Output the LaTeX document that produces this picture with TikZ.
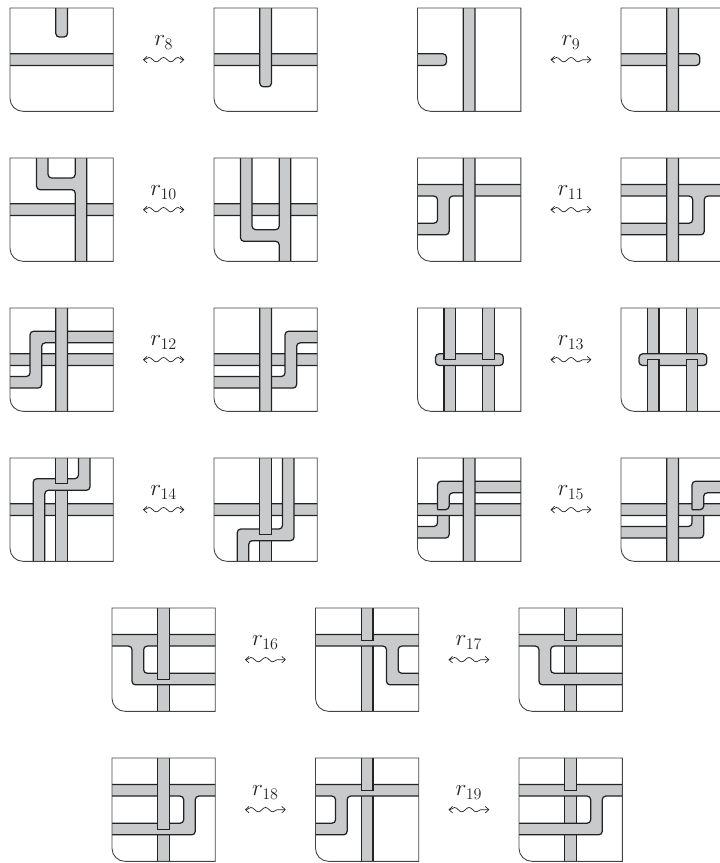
\documentclass[tikz,border=0pt]{standalone}
\usepackage{amsmath}
\usetikzlibrary{arrows.meta, positioning, calc}
\usetikzlibrary{decorations.pathmorphing}
\definecolor{bandgray}{RGB}{200,202,204}
\definecolor{edgeblack}{RGB}{35,35,35}
\tikzset{
	panelbox/.style={minimum size=103.3pt, inner sep=0pt},
	band/.style={draw=edgeblack, fill=bandgray, line width=1.25pt, rounded corners=3.5pt},
	cutband/.style={band, sharp corners},
	frameline/.style={draw=edgeblack!85, line width=0.9pt},
	relarrow/.style={{Straight Barb[length=3.5pt,width=6.5pt]}-{Straight Barb[length=3.5pt,width=6.5pt]}, line width=0.7pt, draw=edgeblack,
		decorate, decoration={snake, segment length=14.5pt, amplitude=2.2pt, pre length=1.5pt, post length=1.5pt}},
	relname/.style={anchor=base, scale=1.12, font=\huge, text=edgeblack},
}
% one square, local coordinates 0..16 with y going up
\newcommand{\panel}[4]{
	\node[panelbox] (#1) at (#2+51.65,#3+51.65) {};
	\begin{scope}[shift={(#2,#3+103.3)}, x=6.456pt, y=6.456pt]
		\begin{scope}
			\clip (0,16) -- (16,16) -- (16,0) -- (2,0) arc[start angle=270, end angle=180, radius=2] -- cycle;
			#4
		\end{scope}
		\draw[frameline] (0,16) -- (16,16) -- (16,0) -- (2,0) arc[start angle=270, end angle=180, radius=2] -- cycle;
	\end{scope}
}
\newcommand{\vband}[1]{\draw[band] (#1-.9,-1) rectangle (#1+.9,17);}
\newcommand{\hband}[1]{\draw[band] (-1,#1-.9) rectangle (17,#1+.9);}
\newcommand{\vcut}[2]{\draw[cutband] (#1-.9,17) rectangle (#1+.9,#2);}
\newcommand{\vcutup}[2]{\draw[cutband] (#1-.9,-1) rectangle (#1+.9,#2);}
% the bands with a branch
\newcommand{\branchleft}{\draw[band] (-1,11.9) -- (17,11.9) -- (17,10.1) -- (4.9,10.1) -- (4.9,4.1) -- (-1,4.1) -- (-1,5.9) -- (3.1,5.9) -- (3.1,10.1) -- (-1,10.1) -- cycle;}
\newcommand{\branchright}{\draw[band] (-1,11.9) -- (17,11.9) -- (17,10.1) -- (12.9,10.1) -- (12.9,4.1) -- (-1,4.1) -- (-1,5.9) -- (11.1,5.9) -- (11.1,10.1) -- (-1,10.1) -- cycle;}
\newcommand{\hookleft}{\draw[band] (-1,11.9) -- (17,11.9) -- (17,10.1) -- (4.9,10.1) -- (4.9,5.9) -- (17,5.9) -- (17,4.1) -- (3.1,4.1) -- (3.1,10.1) -- (-1,10.1) -- cycle;}
\newcommand{\hookright}{\draw[band] (-1,11.9) -- (17,11.9) -- (17,10.1) -- (12.8,10.1) -- (12.8,5.9) -- (17,5.9) -- (17,4.1) -- (11,4.1) -- (11,10.1) -- (-1,10.1) -- cycle;}
\newcommand{\stepleft}{\draw[band] (-1,3.6) -- (4.9,3.6) -- (4.9,10.6) -- (17,10.6) -- (17,12.4) -- (3.1,12.4) -- (3.1,5.4) -- (-1,5.4) -- cycle;}
\newcommand{\stepright}{\draw[band] (-1,3.6) -- (12.8,3.6) -- (12.8,10.6) -- (17,10.6) -- (17,12.4) -- (11,12.4) -- (11,5.4) -- (-1,5.4) -- cycle;}
% wavy double arrow between two squares and its name
\newcommand{\relpair}[3]{
	\draw[relarrow] ([xshift=29.5pt]#1.east) -- ([xshift=-29.5pt]#2.west);
	\node[relname] (name#1) at ($(#1.east)!.5!(#2.west)+(0,-14)$) {$#3$};
}

\begin{document}
\begin{tikzpicture}[x=1pt, y=-1pt]
	\useasboundingbox (0,0) rectangle (720,863);
	% r8 and r9
	\panel{a8}{10}{8}{\hband{8}
		\draw[band] (7.1,17) -- (7.1,11.5) -- (8.9,11.5) -- (8.9,17) -- cycle;}
	\panel{b8}{214}{8}{\hband{8}
		\draw[band] (7.1,17) -- (7.1,3.8) -- (8.9,3.8) -- (8.9,17) -- cycle;}
	\relpair{a8}{b8}{r_8}
	\panel{a9}{417.5}{8}{\vband{8}
		\draw[band] (-1,7.1) -- (4.5,7.1) -- (4.5,8.9) -- (-1,8.9) -- cycle;}
	\panel{b9}{621}{8}{\draw[band] (-1,7.1) -- (12.2,7.1) -- (12.2,8.9) -- (-1,8.9) -- cycle;
		\vband{8}}
	\relpair{a9}{b9}{r_9}
	% r10 and r11
	\panel{a10}{10}{158}{\hband{8}
		\draw[band] (4.1,17) -- (4.1,11.1) -- (10.1,11.1) -- (10.1,-1) -- (11.9,-1) -- (11.9,17) -- (10.1,17) -- (10.1,12.9) -- (5.9,12.9) -- (5.9,17) -- cycle;}
	\panel{b10}{214}{158}{\hband{8}
		\draw[band] (4.1,17) -- (4.1,3.1) -- (10.1,3.1) -- (10.1,-1) -- (11.9,-1) -- (11.9,17) -- (10.1,17) -- (10.1,4.9) -- (5.9,4.9) -- (5.9,17) -- cycle;}
	\relpair{a10}{b10}{r_{10}}
	\panel{a11}{417.5}{158}{\branchleft \vband{8}}
	\panel{b11}{621}{158}{\branchright \vband{8}}
	\relpair{a11}{b11}{r_{11}}
	% r12 and r13
	\panel{a12}{10}{308}{\hband{8} \stepleft \vband{8}}
	\panel{b12}{214}{308}{\hband{8} \stepright \vband{8}}
	\relpair{a12}{b12}{r_{12}}
	\panel{a13}{417.5}{308}{\vcutup{5}{8} \vcutup{11}{8}
		\draw[band] (2.8,7.1) -- (13.3,7.1) -- (13.3,8.9) -- (2.8,8.9) -- cycle;
		\vcut{5}{8} \vcut{11}{8}}
	\panel{b13}{621}{308}{\vcut{5}{8} \vcut{11}{8}
		\draw[band] (2.8,7.1) -- (13.3,7.1) -- (13.3,8.9) -- (2.8,8.9) -- cycle;
		\vcutup{5}{8} \vcutup{11}{8}}
	\relpair{a13}{b13}{r_{13}}
	% r14 and r15
	\panel{a14}{10}{458}{\hband{8} \vcutup{8}{12}
		\draw[band] (3.6,-1) -- (3.6,12.8) -- (10.6,12.8) -- (10.6,17) -- (12.4,17) -- (12.4,11) -- (5.4,11) -- (5.4,-1) -- cycle;
		\vcut{8}{12}}
	\panel{b14}{214}{458}{\hband{8} \vcutup{8}{4.2}
		\draw[band] (3.6,-1) -- (3.6,5) -- (10.6,5) -- (10.6,17) -- (12.4,17) -- (12.4,3.2) -- (5.4,3.2) -- (5.4,-1) -- cycle;
		\vcut{8}{4.2}}
	\relpair{a14}{b14}{r_{14}}
	\panel{a15}{417.5}{458}{\draw[band] (-1,3.6) -- (4.9,3.6) -- (4.9,8) [sharp corners] -- (3.1,8) [rounded corners=3.5pt] -- (3.1,5.4) -- (-1,5.4) -- cycle;
		\hband{8}
		\draw[band] (3.1,8) -- (3.1,12.4) -- (17,12.4) -- (17,10.6) -- (4.9,10.6) -- (4.9,8) [sharp corners] -- (3.1,8);
		\vband{8}}
	\panel{b15}{621}{458}{\draw[band] (-1,3.6) -- (12.8,3.6) -- (12.8,8) [sharp corners] -- (11,8) [rounded corners=3.5pt] -- (11,5.4) -- (-1,5.4) -- cycle;
		\hband{8}
		\draw[band] (11,8) -- (11,12.4) -- (17,12.4) -- (17,10.6) -- (12.8,10.6) -- (12.8,8) [sharp corners] -- (11,8);
		\vband{8}}
	\relpair{a15}{b15}{r_{15}}
	% r16 and r17
	\panel{a16}{112}{608}{\vcutup{8}{5} \hookleft \vcut{8}{4.95}}
	\panel{b16}{315.5}{608}{\vcutup{8}{11} \hookright \vcut{8}{11}}
	\panel{c16}{519}{608}{\vcutup{8}{11} \hookleft \vcut{8}{11}}
	\relpair{a16}{b16}{r_{16}}
	\relpair{b16}{c16}{r_{17}}
	% r18 and r19
	\panel{a18}{112}{758}{\vcutup{8}{5} \branchright \vcut{8}{4.95}}
	\panel{b18}{315.5}{758}{\vcutup{8}{11} \branchleft \vcut{8}{11}}
	\panel{c18}{519}{758}{\vcutup{8}{11} \branchright \vcut{8}{11}}
	\relpair{a18}{b18}{r_{18}}
	\relpair{b18}{c18}{r_{19}}
\end{tikzpicture}
\end{document}
